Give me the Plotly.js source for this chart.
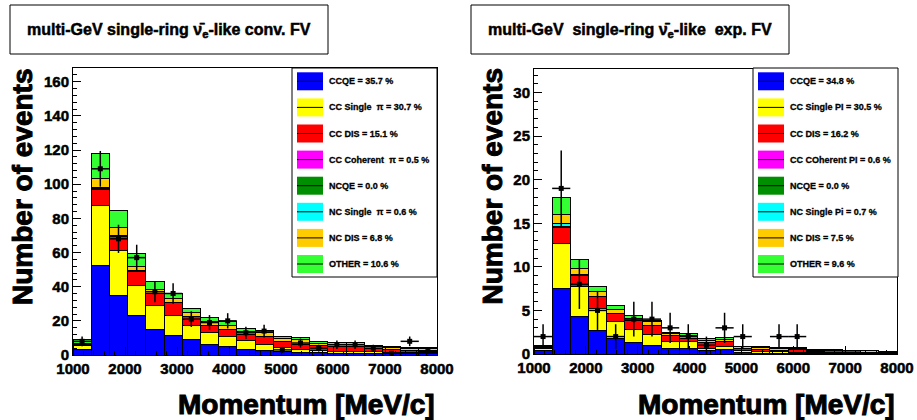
<!DOCTYPE html>
<html>
<head>
<meta charset="utf-8">
<script src="https://cdn.plot.ly/plotly-3.0.1.min.js"></script>
<style>
html,body{margin:0;padding:0;background:#fff;}
#chart{width:917px;height:420px;}
#chart .xtick text, #chart .ytick text, #chart .x2tick text, #chart .y2tick text {stroke:#000; stroke-width:0.5px;}
#chart .annotation-text {stroke:#000; stroke-width:0.3px;}
#chart g.annotation[data-index="0"] .annotation-text,
#chart g.annotation[data-index="1"] .annotation-text {stroke-width:0.5px;}
#chart g.annotation[data-index="18"] .annotation-text,
#chart g.annotation[data-index="19"] .annotation-text,
#chart g.annotation[data-index="20"] .annotation-text,
#chart g.annotation[data-index="21"] .annotation-text {stroke-width:1px;}
</style>
</head>
<body>
<div id="chart"></div>
<script>
// ---- data ----
const binCenters = [1175,1525,1875,2225,2575,2925,3275,3625,3975,4325,4675,5025,5375,5725,6075,6425,6775,7125,7475,7825];
const binWidth = 350;

const modeNames = ["CCQE","CC Single pi","CC DIS","CC Coherent pi","NCQE","NC Single pi","NC DIS","OTHER"];
const modeColors = ["#0000ff","#ffff00","#ff0000","#ff00ff","#008f00","#00ffff","#ffcc00","#33ff33"];

// conv. FV (left)
const convCCQE   = [3.5,52.6,35.1,23.0,15.2,11.3,8.8,6.2,4.7,3.5,2.8,1.9,1.6,1.2,1.0,1.0,0.8,0.6,0.6,0.6];
const convCCpi   = [2.0,34.7,26.3,17.9,13.6,12.1,8.4,7.1,6.0,5.0,3.6,2.4,1.9,1.3,1.3,1.3,1.2,1.0,0.8,0.8];
const convCCDIS  = [0.5,9.5,7.8,7.8,7.0,7.2,5.2,4.2,4.1,3.5,4.6,3.5,2.9,3.3,2.6,2.6,1.9,1.7,1.5,1.5];
const convCCcoh  = [0,0.4,0.3,0.2,0.1,0.1,0.1,0,0,0,0,0,0,0,0,0,0,0,0,0];
const convNCQE   = [0,0,0,0,0,0,0,0,0,0,0,0,0,0,0,0,0,0,0,0];
const convNCpi   = [0.1,1.1,0.3,0.3,0.2,0.2,0.1,0,0,0,0,0,0,0,0,0,0,0,0,0];
const convNCDIS  = [0.9,5.0,5.0,2.8,2.5,2.3,2.1,2.0,2.2,1.6,2.0,1.9,2.4,1.2,1.4,1.4,1.1,0.9,0.8,0.8];
const convOther  = [1.8,14.7,9.6,7.5,4.3,2.6,2.5,2.5,2.5,2.2,1.4,1.0,1.3,0.8,0.9,0.9,0.8,0.7,0.6,0.6];
const convData   = [8,109,68,57,37,36,21,19,20,13,14,3,7,4,6,6,4,1,8,2];
const convPct    = ["CCQE = 35.7 %","CC Single  \u03c0 = 30.7 %","CC DIS = 15.1 %","CC Coherent  \u03c0 = 0.5 %","NCQE = 0.0 %","NC Single  \u03c0 = 0.6 %","NC DIS = 6.8 %","OTHER = 10.6 %"];

// exp. FV (right)
const expCCQE    = [0.4,7.5,4.3,2.7,1.8,1.3,1.0,0.6,0.6,0.45,0.5,0.15,0.1,0.05,0.1,0.05,0.05,0.05,0.05,0.05];
const expCCpi    = [0.25,5.2,3.4,2.5,1.9,1.5,1.2,0.8,0.8,0.2,0.4,0.2,0.17,0.2,0.1,0.1,0.15,0.1,0.05,0.02];
const expCCDIS   = [0.15,1.8,1.3,1.4,1.0,1.1,1.1,0.7,0.4,0.65,0.5,0.3,0.28,0.2,0.3,0.15,0.25,0.3,0.08,0.05];
const expCCcoh   = [0,0.1,0.05,0,0,0,0,0,0,0,0,0,0,0,0,0,0,0,0,0];
const expNCQE    = [0,0,0,0,0,0,0,0,0,0,0,0,0,0,0,0,0,0,0,0];
const expNCpi    = [0,0.4,0.1,0,0,0,0,0,0,0,0,0,0,0,0,0,0,0,0,0];
const expNCDIS   = [0.1,1.0,0.65,0.6,0.4,0.2,0.4,0.3,0.3,0.3,0.3,0.2,0.22,0.2,0.1,0.15,0.05,0,0.2,0.15];
const expOther   = [0.1,2.0,1.1,0.6,0.5,0.3,0.2,0.1,0.2,0.2,0.2,0.05,0.13,0.1,0.1,0.1,0,0,0,0];
const expData    = [2,19,8,5,2,4,4,3,2,1,3,2,null,2,2,null,null,null,null,null];
const expPct     = ["CCQE = 34.8 %","CC Single PI = 30.5 %","CC DIS = 16.2 %","CC COherent PI = 0.6 %","NCQE = 0.0 %","NC Single Pi = 0.7 %","NC DIS = 7.5 %","OTHER = 9.6 %"];

const titleLeft  = "multi-GeV single-ring \u03bd\u0304<sub>e</sub>-like conv. FV";
const titleRight = "multi-GeV\u00a0\u00a0single-ring \u03bd\u0304<sub>e</sub>-like\u00a0\u00a0exp. FV";
const xTitle = "Momentum [MeV/c]";
const yTitle = "Number of events";

// ---- build ----
const W = 917, H = 420;
const px = x => x / W;
const py = y => 1 - y / H;
const FONT = "Liberation Sans";
const B = t => "<b>" + t + "</b>";

const traces = [];
function addPanel(series, data, xa, ya) {
  series.forEach((s, i) => {
    traces.push({
      type: 'bar', x: binCenters, y: s, width: binWidth, name: modeNames[i],
      xaxis: xa, yaxis: ya, showlegend: false,
      marker: {color: modeColors[i], line: {color: '#000', width: 1}},
      hoverinfo: 'skip'
    });
  });
  traces.push({
    type: 'scatter', mode: 'markers', x: binCenters, y: data, xaxis: xa, yaxis: ya,
    showlegend: false, name: 'data',
    marker: {symbol: 'square', size: 5, color: '#000'},
    error_y: {type: 'sqrt', color: '#000', thickness: 1.5, width: 0},
    error_x: {type: 'constant', value: binWidth / 2, color: '#000', thickness: 1.5, width: 0}
  });
}
addPanel([convCCQE, convCCpi, convCCDIS, convCCcoh, convNCQE, convNCpi, convNCDIS, convOther], convData, 'x', 'y');
addPanel([expCCQE, expCCpi, expCCDIS, expCCcoh, expNCQE, expNCpi, expNCDIS, expOther], expData, 'x2', 'y2');

function xaxisDef(domain) {
  return {
    domain: domain, range: [1000, 8000], dtick: 1000, tick0: 1000, tickformat: 'd',
    tickprefix: '<b>', ticksuffix: '</b>',
    ticks: 'inside', ticklen: 8, tickwidth: 1, tickcolor: '#000',
    minor: {ticks: 'inside', ticklen: 4, dtick: 200, tickcolor: '#000'},
    showline: true, linecolor: '#000', linewidth: 1, mirror: true,
    showgrid: false, zeroline: false, fixedrange: true,
    tickfont: {family: FONT, size: 15, color: '#000', weight: 'bold'}
  };
}
function yaxisDef(domain, range, dtick, minorDtick, anchor) {
  return {
    domain: domain, range: range, dtick: dtick, anchor: anchor,
    tickprefix: '<b>', ticksuffix: '</b>',
    ticks: 'inside', ticklen: 8, tickwidth: 1, tickcolor: '#000',
    minor: {ticks: 'inside', ticklen: 4, dtick: minorDtick, tickcolor: '#000'},
    showline: true, linecolor: '#000', linewidth: 1, mirror: true,
    showgrid: false, zeroline: false, fixedrange: true,
    tickfont: {family: FONT, size: 15, color: '#000', weight: 'bold'}
  };
}

const shapes = [];
const annotations = [];

function titleBox(x0, x1, y0, y1, text) {
  shapes.push({type: 'rect', xref: 'paper', yref: 'paper', x0: px(x0), x1: px(x1), y0: py(y1), y1: py(y0),
    line: {color: '#000', width: 1}, fillcolor: '#fff'});
  annotations.push({xref: 'paper', yref: 'paper', x: px((x0 + x1) / 2), y: py((y0 + y1) / 2 + 1),
    xanchor: 'center', yanchor: 'middle', showarrow: false, text: B(text),
    font: {family: FONT, size: 16, color: '#000', weight: 'bold'}});
}
titleBox(10, 328, 5, 54, titleLeft);
titleBox(471, 789, 5, 54, titleRight);

function legendBox(x0, x1, y0, y1, swX0, swX1, textX, labels) {
  shapes.push({type: 'rect', xref: 'paper', yref: 'paper', x0: px(x0), x1: px(x1), y0: py(y1), y1: py(y0),
    line: {color: '#000', width: 1}, fillcolor: '#fff'});
  labels.forEach((lab, i) => {
    const cy = 81.3 + 26.1 * i;
    shapes.push({type: 'rect', xref: 'paper', yref: 'paper', x0: px(swX0), x1: px(swX1), y0: py(cy + 9), y1: py(cy - 9),
      line: {width: 0}, fillcolor: modeColors[i]});
    shapes.push({type: 'line', xref: 'paper', yref: 'paper', x0: px(swX0), x1: px(swX1), y0: py(cy), y1: py(cy),
      line: {color: '#000', width: 1}});
    annotations.push({xref: 'paper', yref: 'paper', x: px(textX), y: py(cy), xanchor: 'left', yanchor: 'middle',
      showarrow: false, text: B(lab), font: {family: FONT, size: 9, color: '#000', weight: 'bold'}});
  });
}
legendBox(292, 437, 68, 277, 297, 323, 327, convPct);
legendBox(753, 898, 68, 277, 758, 784, 788, expPct);

// axis titles
[[437, 22.5], [897, 492]].forEach(([xr, yx]) => {
  annotations.push({xref: 'paper', yref: 'paper', x: px(xr), y: py(404), xanchor: 'right', yanchor: 'middle',
    showarrow: false, text: B(xTitle), font: {family: FONT, size: 28, color: '#000', weight: 'bold'}});
  annotations.push({xref: 'paper', yref: 'paper', x: px(yx), y: py(66), xanchor: 'center', yanchor: 'top',
    textangle: -90, showarrow: false, text: B(yTitle), font: {family: FONT, size: 28, color: '#000', weight: 'bold'}});
});

const layout = {
  width: W, height: H, margin: {l: 0, r: 0, t: 0, b: 0},
  paper_bgcolor: '#fff', plot_bgcolor: '#fff',
  barmode: 'stack', bargap: 0, showlegend: false,
  xaxis: Object.assign(xaxisDef([px(73), px(437)]), {anchor: 'y'}),
  yaxis: yaxisDef([py(355), py(68)], [0, 168], 20, 4, 'x'),
  xaxis2: Object.assign(xaxisDef([px(534), px(897)]), {anchor: 'y2'}),
  yaxis2: yaxisDef([py(354), py(69)], [0, 32.7], 5, 1, 'x2'),
  shapes: shapes, annotations: annotations,
  font: {family: FONT, color: '#000'}
};

Plotly.newPlot('chart', traces, layout, {staticPlot: true, displayModeBar: false});
</script>
</body>
</html>
